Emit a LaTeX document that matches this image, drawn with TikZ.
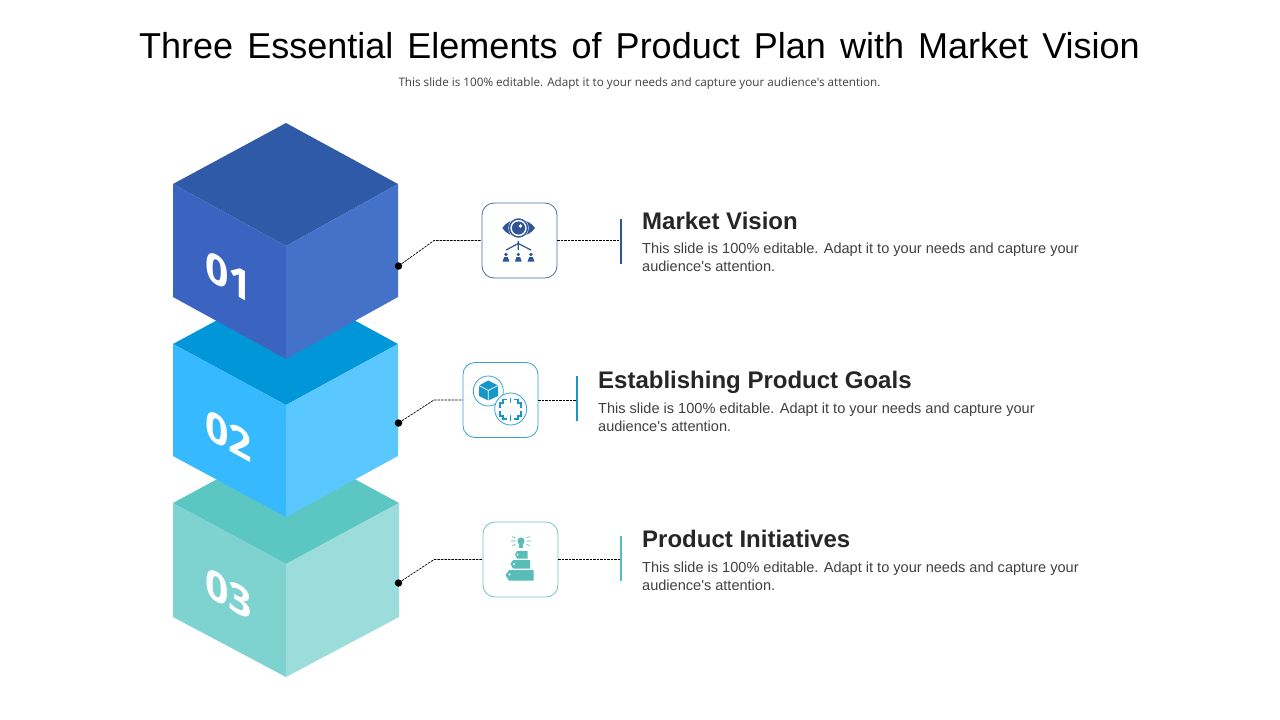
\documentclass[tikz,border=0pt]{standalone}
\usepackage{fontspec}
\setmainfont{Liberation Sans}
\newfontfamily\titlefont[WordSpace=1.41]{Liberation Sans}
\newfontfamily\subfont{Open Sans}
\newfontfamily\numfont{Open Sans}
\definecolor{aT}{HTML}{2F5AA8}\definecolor{aL}{HTML}{3B64C0}\definecolor{aR}{HTML}{4472C9}
\definecolor{bT}{HTML}{0096D8}\definecolor{bL}{HTML}{36B9FF}\definecolor{bR}{HTML}{5AC8FF}
\definecolor{cT}{HTML}{5CC6C3}\definecolor{cL}{HTML}{7ED2CF}\definecolor{cR}{HTML}{9ADDDA}
\definecolor{aI}{HTML}{2F5597}\definecolor{bI}{HTML}{1796CC}\definecolor{cI}{HTML}{58BDB9}
\definecolor{aE}{HTML}{4F6D9F}\definecolor{bE}{HTML}{35A3D2}\definecolor{cE}{HTML}{70C4C1}
\definecolor{ink}{HTML}{262626}\definecolor{bodyink}{HTML}{404040}
\tikzset{
  iconbox/.style={draw=#1,rounded corners=12pt,line width=0.8pt,minimum width=75pt,minimum height=75pt,fill=white,inner sep=0pt},
  link/.style={black,line width=0.7pt,dash pattern=on 2.5pt off 1pt},
  dotnode/.style={circle,fill=black,minimum size=7.5pt,inner sep=0pt},
  barline/.style={draw=#1,line width=2pt},
  headtext/.style={anchor=base west,inner sep=0pt,text=ink,font=\fontsize{24}{28}\selectfont\bfseries},
  bodytext/.style={anchor=north west,inner sep=0pt,text=bodyink,align=left,font=\fontsize{14.55}{18}\selectfont},
  numtext/.style={inner sep=0pt,text=white,yslant=-0.55,font=\fontsize{41}{44}\selectfont\numfont\bfseries},
}
\begin{document}
\begin{tikzpicture}[x=1pt,y=-1pt]
\useasboundingbox (0,0) rectangle (1280,720);
\fill[white] (0,0) rectangle (1280,720);
\node[anchor=base,inner sep=0pt,font=\fontsize{36}{40}\selectfont\titlefont] (title) at (639.5,58)
  {Three Essential Elements of Product Plan with Market Vision};
\node[anchor=base,inner sep=0pt,text=bodyink,font=\fontsize{11.68}{13}\selectfont\subfont] (subtitle) at (639.5,86)
  {This slide is 100\% editable. Adapt it to your needs and capture your audience's attention.};
% cube 3
\fill[cT] (286,442) -- (399,503) -- (286,564) -- (173,503) -- cycle;
\fill[cL] (173,503) -- (286,564) -- (286,677) -- (173,617) -- cycle;
\fill[cR] (399,503) -- (286,564) -- (286,677) -- (399,617) -- cycle;
% cube 2
\fill[bT] (286,283) -- (398,344) -- (286,405) -- (173,344) -- cycle;
\fill[bL] (173,344) -- (286,405) -- (286,517) -- (173,456) -- cycle;
\fill[bR] (398,344) -- (286,405) -- (286,517) -- (398,456) -- cycle;
% cube 1
\fill[aT] (286,123) -- (398,184) -- (286,246) -- (173,184) -- cycle;
\fill[aL] (173,184) -- (286,246) -- (286,359) -- (173,297) -- cycle;
\fill[aR] (398,184) -- (286,246) -- (286,359) -- (398,297) -- cycle;
\node[numtext] (n1) at (228.5,277) {01};
\node[numtext] (n2) at (228.5,436) {02};
\node[numtext] (n3) at (228.5,594) {03};
% boxes
\node[iconbox=aE] (box1) at (519.5,240.5) {};
\node[iconbox=bE] (box2) at (500.5,400) {};
\node[iconbox=cE] (box3) at (520.5,559.5) {};
\node[dotnode] (dot1) at (398.5,266) {};
\node[dotnode] (dot2) at (398.5,423) {};
\node[dotnode] (dot3) at (398.5,583) {};
\coordinate (bend1) at (434,240.5);
\coordinate (bend2) at (434,400);
\coordinate (bend3) at (434,559.5);
\coordinate (bar1t) at (620.5,219);\coordinate (bar1b) at (620.5,264);\coordinate (bar1m) at (620.5,240.5);
\coordinate (bar2t) at (577,376);\coordinate (bar2b) at (577,421);\coordinate (bar2m) at (577,400);
\coordinate (bar3t) at (620.5,536);\coordinate (bar3b) at (620.5,581);\coordinate (bar3m) at (620.5,559.5);
\draw[link] (dot1) -- (bend1) -- (box1.west);
\draw[link] (dot2) -- (bend2) -- (box2.west);
\draw[link] (dot3) -- (bend3) -- (box3.west);
\draw[link] (box1.east) -- (bar1m);
\draw[link] (box2.east) -- (bar2m);
\draw[link] (box3.east) -- (bar3m);
\draw[barline=aI] (bar1t) -- (bar1b);
\draw[barline=bI] (bar2t) -- (bar2b);
\draw[barline=cI] (bar3t) -- (bar3b);
% texts
\node[headtext] (h1) at (642,229) {Market Vision};
\node[bodytext] (t1) at (642,243) {This slide is 100\% editable. Adapt it to your needs and capture your\\audience\textquotesingle s attention.};
\node[headtext] (h2) at (598,388) {Establishing Product Goals};
\node[bodytext] (t2) at (598,403) {This slide is 100\% editable. Adapt it to your needs and capture your\\audience\textquotesingle s attention.};
\node[headtext] (h3) at (642,547) {Product Initiatives};
\node[bodytext] (t3) at (642,561.5) {This slide is 100\% editable. Adapt it to your needs and capture your\\audience\textquotesingle s attention.};
% icon 1: eye
\fill[aI] (502.3,228) .. controls (509,217) and (528,217) .. (535,228) .. controls (528,239) and (509,239) .. (502.3,228) -- cycle;
\fill[white] (518.5,228) circle (10.2);
\draw[aI,line width=1.4pt] (518.5,228) circle (9);
\fill[aI] (518.5,228) circle (6.6);
\fill[white] (520.5,226) circle (1.9);
\draw[aI,line width=1.2pt] (518.3,241) -- (518.3,250) (506,250) -- (518.3,243.5) -- (531,250);
\foreach \px in {506,518.3,531}{
  \fill[aI] (\px,254.5) circle (1.8);
  \fill[aI] (\px-3.4,261.5) -- (\px-1.8,257) -- (\px+1.8,257) -- (\px+3.4,261.5) -- cycle;
}
% icon 2: cube and target
\draw[bE,line width=0.8pt,fill=white] (488.3,391) circle (15);
\fill[bI] (488.3,380.5) -- (498,385.5) -- (498,396) -- (488.3,400.5) -- (479,396) -- (479,385.5) -- cycle;
\draw[white,line width=0.7pt] (479,385.5) -- (488.3,390.5) -- (498,385.5) (488.3,390.5) -- (488.3,400.5);
\draw[bE,line width=0.8pt,fill=white] (510.7,409) circle (16);
\draw[bI,line width=1.4pt]
  (500,408) -- (500,403) -- (503,403) -- (503,399.5) -- (507,399.5)
  (514,399.5) -- (518,399.5) -- (518,403) -- (521,403) -- (521,408)
  (500,411) -- (500,416) -- (503,416) -- (503,419) -- (507,419)
  (514,419) -- (518,419) -- (518,416) -- (521,416) -- (521,411)
  (510.7,397.5) -- (510.7,403) (510.7,415) -- (510.7,421);
% icon 3: bulb and tags
\fill[cI] (521,541) circle (3.6);
\fill[cI] (519,544) rectangle (523,547.5);
\draw[cI,line width=0.6pt]
  (515.5,541) -- (511,541) (515.5,538) -- (512,536.5) (515.5,544) -- (512,546)
  (526.5,541) -- (531,541) (526.5,538) -- (530,536.5) (526.5,544) -- (530,546);
\fill[cI] (515,554.5) -- (517,551) -- (527.5,551) -- (527.5,558.5) -- (517,558.5) -- cycle;
\fill[cI] (510.5,564) -- (513,560) -- (530,560) -- (530,568.5) -- (513,568.5) -- cycle;
\fill[cI] (505.5,575) -- (509,570) -- (533.5,570) -- (533.5,580.7) -- (509,580.7) -- cycle;
\fill[white] (517.5,554.5) circle (1) (514,564) circle (1) (509.5,574.5) circle (1.1);
\end{tikzpicture}
\end{document}
